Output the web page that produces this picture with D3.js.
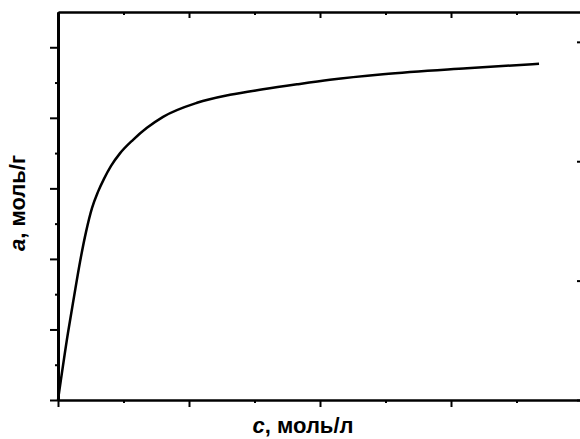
<!DOCTYPE html>
<html>
<head>
<meta charset="utf-8">
<script src="https://cdnjs.cloudflare.com/ajax/libs/d3/7.8.5/d3.min.js"></script>
<style>
  body { margin: 0; background: #fff; }
  svg { display: block; }
  .axis path, .axis line { stroke: #000; }
  .label { font-family: "Liberation Sans", Arial, sans-serif; font-weight: bold; font-size: 22px; }
</style>
</head>
<body>
<svg id="chart" width="580" height="439"></svg>
<script>
// isotherm: c (моль/л) vs a (моль/г), no tick labels shown
var concentration = [0, 0.076, 0.122, 0.168, 0.214, 0.260, 0.305, 0.351, 0.405, 0.473, 0.573, 0.679, 0.802, 1.061, 1.313, 1.565, 1.824, 2.076, 2.481, 3.122, 3.672];
var adsorption    = [0, 0.950, 1.461, 1.957, 2.383, 2.723, 2.950, 3.135, 3.319, 3.496, 3.688, 3.858, 4.014, 4.213, 4.326, 4.404, 4.475, 4.539, 4.617, 4.702, 4.766];

var xMajor = [0, 1, 2, 3, 4];
var xMinor = [0.5, 1.5, 2.5, 3.5];
var yMajor = [0, 1, 2, 3, 4, 5];
var yMinor = [0.5, 1.5, 2.5, 3.5, 4.5];
var y2Major = [0, 1, 2, 3];
var y2Minor = [0.5, 1.5, 2.5];

var mLeft = 58, mRight = 582, mTop = 12, mBottom = 400;

var svg = d3.select('#chart');

var x = d3.scaleLinear().domain([0, 4]).range([mLeft, mRight]);
var y = d3.scaleLinear().domain([0, 5.5]).range([mBottom, mTop]);
var y2 = d3.scaleLinear().domain([0, 3.25]).range([mBottom, mTop]);

function addAxis(axis, tx, ty, showDomain, width) {
    var g = svg.append('g')
        .attr('class', 'axis')
        .attr('transform', 'translate(' + tx + ',' + ty + ')')
        .call(axis.tickFormat('').tickSizeOuter(0));
    g.selectAll('line').attr('stroke-width', 2);
    if (showDomain)
        g.select('path.domain').attr('stroke-width', width || 2.5);
    else
        g.select('path.domain').remove();
    return g;
}

// bottom (outward) and top (inward)
addAxis(d3.axisBottom(x).tickValues(xMajor).tickSize(7), 0, mBottom, true);
addAxis(d3.axisBottom(x).tickValues(xMinor).tickSize(3), 0, mBottom, false);
addAxis(d3.axisBottom(x).tickValues(xMajor).tickSize(6), 0, mTop, true);
addAxis(d3.axisBottom(x).tickValues(xMinor).tickSize(3), 0, mTop, false);

// left (outward) and right (inward, second scale)
addAxis(d3.axisLeft(y).tickValues(yMajor).tickSize(8), mLeft, 0, true, 3);
addAxis(d3.axisLeft(y).tickValues(yMinor).tickSize(3), mLeft, 0, false);
addAxis(d3.axisLeft(y2).tickValues(y2Major).tickSize(5), mRight, 0, true);
addAxis(d3.axisLeft(y2).tickValues(y2Minor).tickSize(2), mRight, 0, false);

var points = concentration.map(function (c, i) { return [c, adsorption[i]]; });

var line = d3.line()
    .x(function (d) { return x(d[0]); })
    .y(function (d) { return y(d[1]); })
    .curve(d3.curveMonotoneX);

svg.append('path')
    .datum(points)
    .attr('fill', 'none')
    .attr('stroke', '#000')
    .attr('stroke-width', 2.5)
    .attr('d', line);

// axis titles
var xt = svg.append('text')
    .attr('class', 'label')
    .attr('x', 303)
    .attr('y', 433)
    .attr('text-anchor', 'middle');
xt.append('tspan').attr('font-style', 'italic').text('c');
xt.append('tspan').text(', моль/л');

var yt = svg.append('text')
    .attr('class', 'label')
    .attr('transform', 'translate(25,203) rotate(-90)')
    .attr('text-anchor', 'middle');
yt.append('tspan').attr('font-style', 'italic').text('a');
yt.append('tspan').text(', моль/г');
</script>
</body>
</html>
